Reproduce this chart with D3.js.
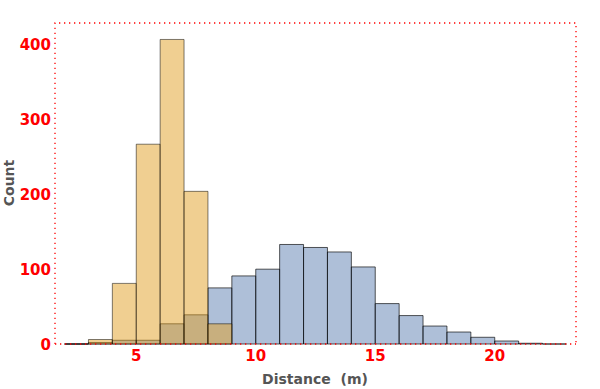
<!DOCTYPE html>
<html>
<head>
<meta charset="utf-8">
<style>
    body { margin: 0; background: white; }
    svg { display: block; font-family: 'DejaVu Sans', sans-serif; }
</style>
</head>
<body>
<svg width="600" height="389"></svg>
<script src="https://d3js.org/d3.v7.min.js"></script>
<script>
    // bin edges start at 2, width 1
    let blueStart = 2
    let blueCounts = [0, 2, 5, 5, 27, 39, 75, 91, 100, 133, 129, 123, 103, 54, 38, 24, 16, 9, 4, 1, 0]
    let orangeStart = 2
    let orangeCounts = [0, 6, 81, 267, 407, 204, 27]
    let xTicks = [5, 10, 15, 20]
    let yTicks = [0, 100, 200, 300, 400]

    let svg = d3.select("svg")

    let x = d3.scaleLinear().domain([1.6, 23.4]).range([55, 576])
    let y = d3.scaleLinear().domain([0, 429]).range([344, 23])

    let toBins = (start, counts) => counts.map((c, i) => ({x0: start + i, x1: start + i + 1, n: c}))
    // path so that empty bins still show as a flat line
    let barPath = d => `M${x(d.x0)},${y(0)}V${y(d.n)}H${x(d.x1)}V${y(0)}Z`

    // frame (dotted red)
    let dots = "1.3,3.7"
    svg.append("path")
        .attr("d", `M${x(1.6)},${y(0)}V${y(429)}H${x(23.4)}V${y(0)}`)
        .attr("fill", "none")
        .attr("stroke", "red")
        .attr("stroke-width", 1.3)
        .attr("stroke-dasharray", dots)

    svg.append("g")
        .selectAll("path")
        .data(toBins(blueStart, blueCounts))
        .join("path")
        .attr("d", barPath)
        .attr("fill", "rgb(93,127,177)")
        .attr("fill-opacity", 0.5)
        .attr("stroke", "black")
        .attr("stroke-opacity", 0.65)
        .attr("stroke-width", 1)

    svg.append("g")
        .selectAll("path")
        .data(toBins(orangeStart, orangeCounts))
        .join("path")
        .attr("d", barPath)
        .attr("fill", "rgb(225,159,35)")
        .attr("fill-opacity", 0.5)
        .attr("stroke", "black")
        .attr("stroke-opacity", 0.5)
        .attr("stroke-width", 1)

    // x axis line on top
    svg.append("line")
        .attr("x1", x(1.6)).attr("x2", x(23.4))
        .attr("y1", y(0)).attr("y2", y(0))
        .attr("stroke", "red")
        .attr("stroke-width", 1.3)
        .attr("stroke-dasharray", dots)

    svg.append("g")
        .selectAll("text")
        .data(xTicks)
        .join("text")
        .attr("x", d => x(d))
        .attr("y", 361)
        .attr("text-anchor", "middle")
        .attr("fill", "red")
        .style("font-size", "15px")
        .style("font-weight", "bold")
        .text(d => d)

    svg.append("g")
        .selectAll("text")
        .data(yTicks)
        .join("text")
        .attr("x", 51)
        .attr("y", d => y(d) + 5.5)
        .attr("text-anchor", "end")
        .attr("fill", "red")
        .style("font-size", "15px")
        .style("font-weight", "bold")
        .text(d => d)

    svg.append("text")
        .attr("x", 315)
        .attr("y", 384)
        .attr("text-anchor", "middle")
        .attr("fill", "#555")
        .style("font-size", "14px")
        .style("font-weight", "bold")
        .style("white-space", "pre")
        .text("Distance  (m)")

    svg.append("text")
        .attr("transform", "translate(14,183) rotate(-90)")
        .attr("text-anchor", "middle")
        .attr("fill", "#555")
        .style("font-size", "14px")
        .style("font-weight", "bold")
        .text("Count")
</script>
</body>
</html>
